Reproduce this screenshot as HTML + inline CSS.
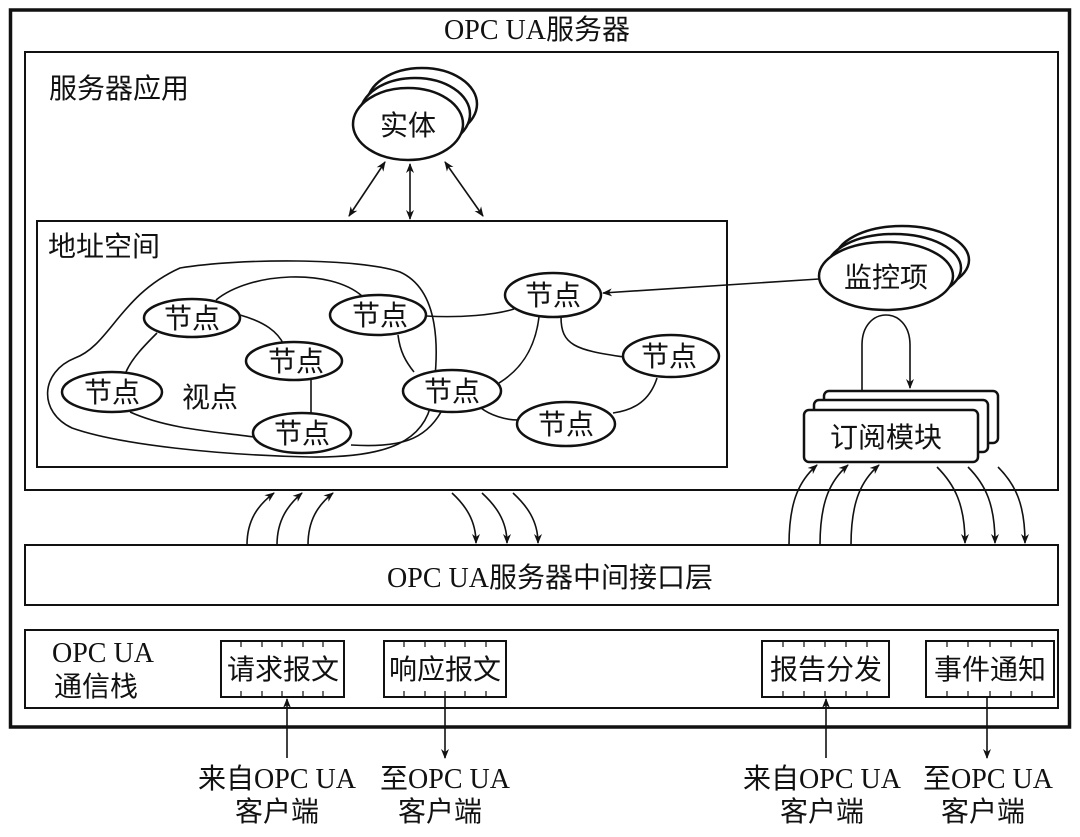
<!DOCTYPE html>
<html><head><meta charset="utf-8"><style>
body{margin:0;background:#fff}
svg{display:block}
text{font-family:"Liberation Serif","Noto Sans CJK SC",serif;font-size:28px;fill:#111}
</style></head><body>
<svg width="1080" height="837" viewBox="0 0 1080 837" xmlns="http://www.w3.org/2000/svg">
<defs>
<marker id="a" viewBox="0 0 10 10" refX="9" refY="5" markerWidth="10" markerHeight="10" orient="auto-start-reverse" markerUnits="userSpaceOnUse"><path d="M0,1 L10,5 L0,9 L3,5 Z" fill="#111"/></marker>
</defs>
<g fill="none" stroke="#111">
<rect x="10.5" y="10" width="1059" height="717" stroke-width="3.5"/>
<rect x="25" y="52" width="1033" height="438" stroke-width="2"/>
<rect x="37" y="221" width="690" height="246" stroke-width="2"/>
<rect x="25" y="545" width="1033" height="60" stroke-width="2"/>
<rect x="25" y="630" width="1033" height="78" stroke-width="2"/>
</g>
<text x="537" y="39" text-anchor="middle" font-size="28">OPC UA服务器</text>
<text x="49" y="98" font-size="29">服务器应用</text>
<text x="48" y="256" font-size="26">地址空间</text>

<!-- entity -->
<g stroke="#111" stroke-width="2.5" fill="#fff">
<ellipse cx="422" cy="104" rx="55" ry="36"/>
<ellipse cx="415" cy="114" rx="55" ry="36"/>
<ellipse cx="408" cy="124" rx="55" ry="36"/>
</g>
<text x="408" y="135" text-anchor="middle" font-size="29">实体</text>
<g stroke="#111" stroke-width="1.6" fill="none">
<line x1="385" y1="162" x2="349" y2="216" marker-start="url(#a)" marker-end="url(#a)"/>
<line x1="410" y1="164" x2="410" y2="219" marker-start="url(#a)" marker-end="url(#a)"/>
<line x1="445" y1="162" x2="483" y2="216" marker-start="url(#a)" marker-end="url(#a)"/>
</g>

<!-- view boundary & edges -->
<g stroke="#111" stroke-width="1.6" fill="none">
<path d="M180 268 C240 258,360 258,400 272 C440 290,440 350,432 400 C425 440,390 458,310 457 C220 455,120 445,72 428 C38 412,40 372,75 358 C110 345,120 295,180 268 Z"/>
<path d="M216 300 C250 272,330 268,362 296"/>
<path d="M240 315 C265 322,278 332,284 345"/>
<path d="M157 333 C145 345,132 358,126 372"/>
<path d="M311 380 L311 413"/>
<path d="M130 412 C170 430,220 432,254 437"/>
<path d="M398 335 C400 352,406 362,414 372"/>
<path d="M426 316 C460 318,495 315,514 309"/>
<path d="M539 317 C535 350,520 370,499 383"/>
<path d="M561 317 C561 345,575 350,624 357"/>
<path d="M481 408 C490 415,505 420,518 420"/>
<path d="M657 378 C650 400,635 410,613 413"/>
<path d="M351 445 C400 448,425 440,441 412"/>
<line x1="819" y1="279" x2="603" y2="293" marker-end="url(#a)"/>
</g>
<g stroke="#111" stroke-width="2.5" fill="#fff">
<ellipse cx="192" cy="318" rx="48" ry="19"/>
<ellipse cx="378" cy="315" rx="48" ry="20"/>
<ellipse cx="294" cy="361" rx="48" ry="19"/>
<ellipse cx="112" cy="392" rx="50" ry="20"/>
<ellipse cx="302" cy="433" rx="49" ry="20"/>
<ellipse cx="452" cy="391" rx="49" ry="21"/>
<ellipse cx="553" cy="295" rx="48" ry="22"/>
<ellipse cx="671" cy="356" rx="48" ry="21"/>
<ellipse cx="566" cy="424" rx="49" ry="22"/>
</g>
<g text-anchor="middle" font-size="27">
<text x="192" y="328">节点</text>
<text x="380" y="325">节点</text>
<text x="296" y="371">节点</text>
<text x="112" y="402">节点</text>
<text x="302" y="443">节点</text>
<text x="452" y="401">节点</text>
<text x="553" y="305">节点</text>
<text x="669" y="366">节点</text>
<text x="566" y="434">节点</text>
<text x="210" y="407">视点</text>
</g>

<!-- monitored item -->
<g stroke="#111" stroke-width="2.5" fill="#fff">
<ellipse cx="902" cy="260" rx="67" ry="34"/>
<ellipse cx="894" cy="268" rx="67" ry="34"/>
<ellipse cx="886" cy="276" rx="67" ry="34"/>
</g>
<text x="886" y="287" text-anchor="middle" font-size="29">监控项</text>
<path d="M862 390 L862 345 C862 305,910 305,910 345 L910 388" stroke="#111" stroke-width="1.6" fill="none" marker-end="url(#a)"/>

<!-- subscription -->
<g stroke="#111" stroke-width="2.5" fill="#fff">
<rect x="824" y="391" width="174" height="52" rx="5"/>
<rect x="814" y="400" width="174" height="52" rx="5"/>
<rect x="804" y="410" width="174" height="52" rx="5"/>
</g>
<text x="886" y="447" text-anchor="middle" font-size="28">订阅模块</text>

<!-- curved arrows -->
<g stroke="#111" stroke-width="1.6" fill="none">
<path d="M247 545 C247 520,258 505,274 493" marker-end="url(#a)"/>
<path d="M277 545 C277 520,288 505,302 493" marker-end="url(#a)"/>
<path d="M308 545 C308 520,318 505,333 493" marker-end="url(#a)"/>
<path d="M452 493 C465 505,476 520,476 543" marker-end="url(#a)"/>
<path d="M482 493 C495 505,507 520,507 543" marker-end="url(#a)"/>
<path d="M513 493 C526 505,538 520,538 543" marker-end="url(#a)"/>
<path d="M789 545 C789 500,800 480,817 465" marker-end="url(#a)"/>
<path d="M820 545 C820 500,831 480,848 465" marker-end="url(#a)"/>
<path d="M851 545 C851 500,862 480,879 465" marker-end="url(#a)"/>
<path d="M937 467 C955 485,965 505,965 543" marker-end="url(#a)"/>
<path d="M968 467 C986 485,995 505,995 543" marker-end="url(#a)"/>
<path d="M998 467 C1016 485,1025 505,1025 543" marker-end="url(#a)"/>
</g>
<text x="550" y="587" text-anchor="middle" font-size="29">OPC UA服务器中间接口层</text>

<!-- stack -->
<text x="52" y="662" font-size="28">OPC UA</text>
<text x="54" y="696" font-size="28">通信栈</text>
<g stroke="#111" stroke-width="2" fill="#fff">
<rect x="221" y="641" width="123" height="56"/>
<rect x="384" y="641" width="122" height="56"/>
<rect x="762" y="641" width="127" height="56"/>
<rect x="926" y="641" width="128" height="56"/>
</g>
<g stroke="#111" stroke-width="1.2">
<path d="M241 641v6M262 641v6M282 641v6M303 641v6M323 641v6M241 697v-6M262 697v-6M282 697v-6M303 697v-6M323 697v-6"/>
<path d="M404 641v6M425 641v6M445 641v6M465 641v6M486 641v6M404 697v-6M425 697v-6M445 697v-6M465 697v-6M486 697v-6"/>
<path d="M783 641v6M804 641v6M825 641v6M846 641v6M867 641v6M783 697v-6M804 697v-6M825 697v-6M846 697v-6M867 697v-6"/>
<path d="M947 641v6M968 641v6M990 641v6M1011 641v6M1032 641v6M947 697v-6M968 697v-6M990 697v-6M1011 697v-6M1032 697v-6"/>
</g>
<g text-anchor="middle" font-size="28">
<text x="283" y="679">请求报文</text>
<text x="445" y="679">响应报文</text>
<text x="826" y="679">报告分发</text>
<text x="990" y="679">事件通知</text>
</g>
<g stroke="#111" stroke-width="1.6">
<line x1="287" y1="758" x2="287" y2="699" marker-end="url(#a)"/>
<line x1="445" y1="697" x2="445" y2="758" marker-end="url(#a)"/>
<line x1="826" y1="758" x2="826" y2="699" marker-end="url(#a)"/>
<line x1="987" y1="697" x2="987" y2="758" marker-end="url(#a)"/>
</g>
<g text-anchor="middle" font-size="28">
<text x="277" y="788">来自OPC UA</text>
<text x="277" y="821">客户端</text>
<text x="445" y="788">至OPC UA</text>
<text x="440" y="821">客户端</text>
<text x="822" y="788">来自OPC UA</text>
<text x="822" y="821">客户端</text>
<text x="988" y="788">至OPC UA</text>
<text x="983" y="821">客户端</text>
</g>
</svg>
</body></html>
